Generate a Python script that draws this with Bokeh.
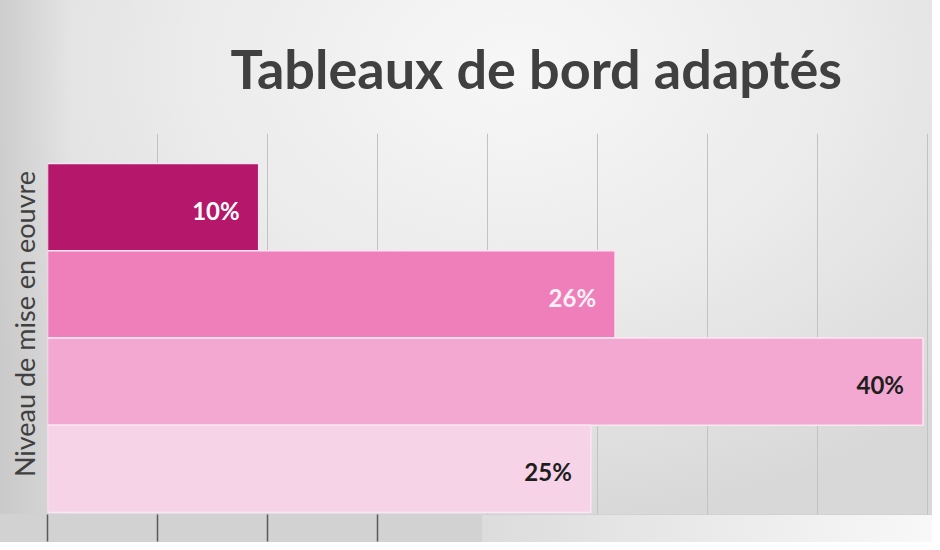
from bokeh.plotting import figure
from bokeh.models import FixedTicker, Title, Range1d
from bokeh.core.properties import value
from bokeh.embed import file_html
from bokeh.resources import INLINE

# ---- data ----
title_text = "Tableaux de bord adaptés"
y_label = "Niveau de mise en eouvre"
values = [9.6, 25.8, 39.8, 24.7]          # bar lengths (top to bottom), in %
labels = ["10%", "26%", "40%", "25%"]     # printed labels
bar_colors = ["#b5176b", "#ee7fba", "#f2a8d1", "#f7d3e8"]
label_colors = ["#ffffff", "#fdf1f7", "#1e1e1e", "#1e1e1e"]
grid_ticks = [0, 5, 10, 15, 20, 25, 30, 35, 40]
axis_ticks = [0, 5, 10, 15]

positions = list(range(len(values), 0, -1))

p = figure(width=932, height=542, output_backend="svg", toolbar_location=None,
           x_range=Range1d(0, 40.23), y_range=Range1d(0.477, 4.843))
p.min_border_left = 47
p.min_border_right = 0
p.min_border_top = 132
p.min_border_bottom = 28
p.outline_line_color = None
p.border_fill_alpha = 0
p.background_fill_alpha = 0
p.styles = {
    "background": (
        "linear-gradient(90deg, #dcdcdc, #f8f8f8) right bottom / calc(100% - 482px) 27px no-repeat, "
        "linear-gradient(#d2d2d2, #d2d2d2) left bottom / 100% 28px no-repeat, "
        "linear-gradient(90deg, rgba(190,190,190,0.55) 0px, rgba(190,190,190,0) 70px), "
        "radial-gradient(ellipse 70% 85% at 55% 12%, #f7f7f7 0%, #ebebeb 50%, #d8d8d8 100%)"
    )
}

# title
t = Title(text=title_text, align="left", offset=183,
          text_font="Lato", text_font_style="bold",
          text_font_size="54px", text_color="#404040", standoff=66)
p.add_layout(t, "above")

# grid
p.xgrid.ticker = FixedTicker(ticks=grid_ticks)
p.xgrid.grid_line_color = "#c2c2c2"
p.xgrid.grid_line_width = 1
p.ygrid.grid_line_color = None

# bars
p.hbar(y=positions, left=0, right=values, height=1.0,
       fill_color=bar_colors, line_color="#fbe6f1", line_width=1.5)

# labels
p.text(x=values, y=positions, text=labels, text_align="right",
       text_baseline="middle", x_offset=-19, y_offset=3,
       text_font=value("Lato"), text_font_style="bold",
       text_font_size="24px", text_color=label_colors)

# y axis: label only
p.yaxis.ticker = FixedTicker(ticks=[])
p.yaxis.axis_line_color = None
p.yaxis.major_tick_line_color = None
p.yaxis.minor_tick_line_color = None
p.yaxis.axis_label = y_label
p.yaxis.axis_label_text_font = "Lato"
p.yaxis.axis_label_text_font_style = "normal"
p.yaxis.axis_label_text_font_size = "27px"
p.yaxis.axis_label_text_color = "#404040"
p.yaxis.axis_label_standoff = 7

# x axis: long ticks only
p.xaxis.ticker = FixedTicker(ticks=axis_ticks)
p.xaxis.axis_line_color = None
p.xaxis.major_tick_in = 0
p.xaxis.major_tick_out = 27
p.xaxis.major_tick_line_color = "#5a5a5a"
p.xaxis.major_tick_line_width = 1.5
p.xaxis.minor_tick_line_color = None
p.xaxis.major_label_text_font_size = "1px"
p.xaxis.major_label_text_alpha = 0
p.xaxis.major_label_standoff = 0

open("out.html", "w").write(file_html(p, INLINE))
